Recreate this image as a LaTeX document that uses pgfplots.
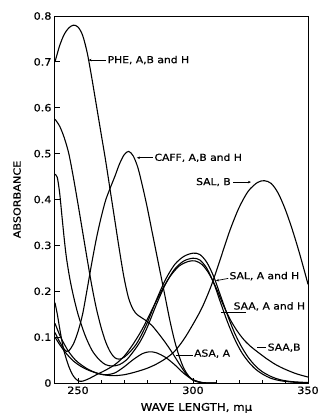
\documentclass[border=0pt]{standalone}
\usepackage{fontspec}
\setmainfont{DejaVu Sans}[FakeStretch=1.12, FakeBold=0.6]
\usepackage{pgfplots}
\pgfplotsset{compat=1.18}
\usetikzlibrary{arrows.meta}

\pgfplotstableread{
w A
240 0.700
242 0.735
244 0.760
246 0.774
248 0.780
250 0.776
252 0.758
254 0.720
256 0.665
258 0.605
260 0.545
262 0.485
264 0.420
266 0.355
268 0.290
270 0.230
272 0.185
274 0.160
276 0.148
279 0.138
282 0.126
285 0.108
288 0.088
291 0.066
294 0.042
297 0.020
300 0.006
304 0.000
}\phe

\pgfplotstableread{
w A
240 0.110
242 0.090
244 0.074
245 0.069
246 0.070
248 0.085
250 0.112
252 0.150
254 0.205
256 0.262
258 0.315
260 0.360
262 0.398
264 0.425
266 0.450
268 0.477
270 0.497
272 0.505
274 0.495
276 0.470
278 0.430
280 0.385
282 0.335
284 0.285
286 0.235
288 0.185
290 0.135
292 0.092
294 0.058
296 0.032
298 0.016
300 0.007
304 0.001
310 0.000
}\caff

\pgfplotstableread{
w A
240 0.575
242 0.560
244 0.535
246 0.500
248 0.448
250 0.390
252 0.330
254 0.270
256 0.212
258 0.162
260 0.122
262 0.090
264 0.068
266 0.055
268 0.052
270 0.056
273 0.070
276 0.090
280 0.130
284 0.180
288 0.225
292 0.258
296 0.276
300 0.283
303 0.280
306 0.263
309 0.232
312 0.190
315 0.148
318 0.110
321 0.080
324 0.056
327 0.038
330 0.025
334 0.014
338 0.007
343 0.003
350 0.001
}\salah

\pgfplotstableread{
w A
240 0.455
241 0.448
242 0.415
243 0.365
244 0.315
245 0.272
246.5 0.226
248 0.190
250 0.150
253 0.105
256 0.072
259 0.052
262 0.040
265 0.037
268 0.040
271 0.050
274 0.068
277 0.090
280 0.120
284 0.170
288 0.215
292 0.248
296 0.266
300 0.272
303 0.268
306 0.250
309 0.218
312 0.175
315 0.133
318 0.097
321 0.068
324 0.047
327 0.031
330 0.020
334 0.010
338 0.005
343 0.002
350 0.000
}\saaah

\pgfplotstableread{
w A
240 0.175
241 0.150
242 0.120
243 0.092
244 0.068
246 0.036
248 0.015
250 0.005
252 0.004
255 0.010
258 0.018
262 0.028
266 0.040
270 0.058
274 0.085
278 0.118
282 0.158
286 0.198
290 0.232
294 0.255
298 0.265
301 0.266
304 0.258
307 0.238
310 0.208
313 0.172
316 0.140
319 0.115
322 0.095
325 0.080
328 0.068
332 0.053
336 0.040
340 0.030
345 0.020
350 0.013
}\saab

\pgfplotstableread{
w A
240 0.130
242 0.105
244 0.085
246 0.068
248 0.055
250 0.045
254 0.031
258 0.022
262 0.018
266 0.022
270 0.035
274 0.051
278 0.064
281 0.068
284 0.066
288 0.056
292 0.040
296 0.021
300 0.007
304 0.001
310 0.000
}\asa

\pgfplotstableread{
w A
240 0.100
242 0.084
244 0.070
246 0.058
248 0.048
251 0.037
255 0.027
260 0.019
265 0.016
270 0.018
275 0.024
280 0.032
284 0.041
288 0.053
292 0.069
296 0.095
300 0.128
304 0.165
308 0.213
312 0.272
316 0.332
320 0.382
324 0.418
328 0.437
331 0.441
334 0.435
337 0.414
340 0.380
343 0.337
346 0.288
349 0.234
350 0.215
}\salb

\begin{document}
\begin{tikzpicture}
\useasboundingbox (-55pt,-34pt) rectangle (266pt,383pt);
\begin{axis}[
  scale only axis, width=253pt, height=367pt,
  xmin=240, xmax=350, ymin=0, ymax=0.8,
  xtick={250,300,350}, minor xtick={260,270,280,290,310,320,330,340},
  ytick={0,0.1,0.2,0.3,0.4,0.5,0.6,0.7,0.8},
  yticklabels={0,0.1,0.2,0.3,0.4,0.5,0.6,0.7,0.8},
  xticklabels={250,300,350},
  tick align=inside, xtick pos=bottom, ytick pos=left,
  major tick length=5pt, minor tick length=3.5pt,
  every tick/.style={black, line width=0.8pt},
  axis line style={line width=1pt},
  tick label style={font=\fontsize{10}{12}\selectfont},
  /pgf/number format/assume math mode=true,
  xlabel={WAVE LENGTH, mμ}, ylabel={ABSORBANCE},
  every axis x label/.style={at={(axis description cs:0.559,-0.068)}, anchor=center, font=\fontsize{10.5}{12}\selectfont},
  every axis y label/.style={at={(axis description cs:-0.15,0.5)}, anchor=center, rotate=90, font=\fontsize{10}{12}\selectfont},
]
\pgfplotsset{cstyle/.style={black, line width=1.1pt, line join=round, smooth, tension=0.5, mark=none}}
\addplot[cstyle] table[x=w,y=A] {\phe};
\addplot[cstyle] table[x=w,y=A] {\caff};
\addplot[cstyle] table[x=w,y=A] {\salah};
\addplot[cstyle] table[x=w,y=A] {\saaah};
\addplot[cstyle] table[x=w,y=A] {\saab};
\addplot[cstyle] table[x=w,y=A] {\asa};
\addplot[cstyle] table[x=w,y=A] {\salb};

\begin{scope}[font=\fontsize{9.6}{12}\selectfont, every node/.style={inner sep=0pt}]
\draw[-{Stealth[length=3pt,width=2.5pt]}, line width=0.7pt] (axis cs:262.2,0.704) -- (axis cs:254.6,0.704);
\node[anchor=west] at (axis cs:262.8,0.704) {PHE, A,B and H};
\draw[-{Stealth[length=3pt,width=2.5pt]}, line width=0.7pt] (axis cs:282.6,0.491) -- (axis cs:275.6,0.491);
\node[anchor=west] at (axis cs:283.2,0.491) {CAFF, A,B and H};
\node[anchor=east] at (axis cs:316.5,0.438) {SAL, B};
\draw[-{Stealth[length=3pt,width=2.5pt]}, line width=0.7pt] (axis cs:317.5,0.438) -- (axis cs:325.2,0.438);
\node[anchor=west] at (axis cs:315.8,0.233) {SAL, A and H};
\draw[-{Stealth[length=3pt,width=2.5pt]}, line width=0.7pt] (axis cs:315.3,0.228) -- (axis cs:310.0,0.223);
\node[anchor=west] at (axis cs:317.6,0.167) {SAA, A and H};
\draw[line width=0.7pt] (axis cs:312.3,0.153) -- (axis cs:323.2,0.153);
\node[anchor=west] at (axis cs:332.4,0.077) {SAA,B};
\draw[line width=0.7pt] (axis cs:331.8,0.077) -- (axis cs:328.0,0.077);
\node[anchor=west] at (axis cs:300.4,0.064) {ASA, A};
\draw[line width=0.7pt] (axis cs:299.8,0.061) -- (axis cs:292.8,0.061);
\end{scope}
\end{axis}
\end{tikzpicture}
\end{document}
